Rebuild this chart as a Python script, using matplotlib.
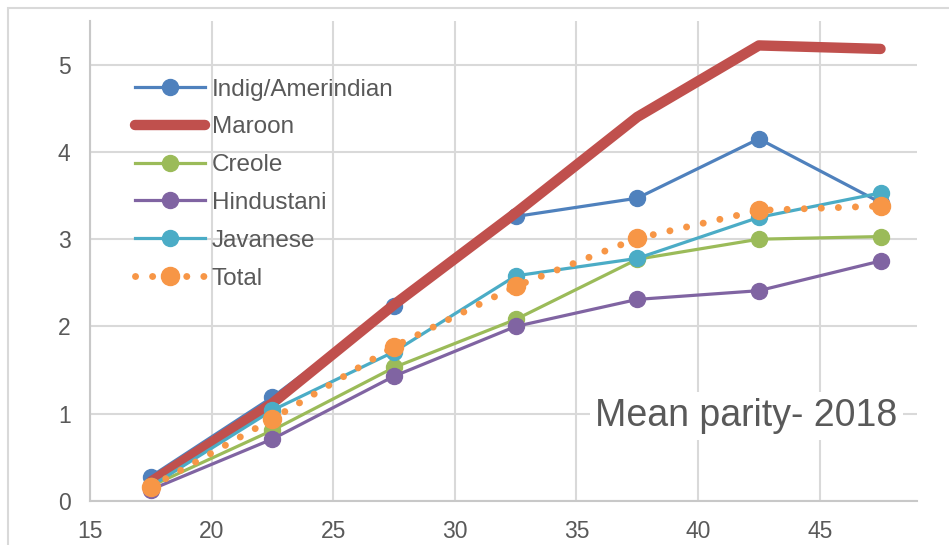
import matplotlib.pyplot as plt
from matplotlib.patches import Rectangle

plt.rcParams['font.family'] = ['Liberation Sans', 'DejaVu Sans']

age_mid = [17.5, 22.5, 27.5, 32.5, 37.5, 42.5, 47.5]
indig = [0.28, 1.19, 2.23, 3.26, 3.47, 4.15, 3.42]
maroon = [0.22, 1.12, 2.25, 3.30, 4.40, 5.22, 5.18]
creole = [0.17, 0.81, 1.53, 2.08, 2.77, 3.00, 3.03]
hindustani = [0.13, 0.71, 1.43, 2.00, 2.31, 2.41, 2.75]
javanese = [0.17, 1.04, 1.71, 2.58, 2.78, 3.25, 3.53]
total = [0.16, 0.94, 1.77, 2.46, 3.01, 3.33, 3.38]

xticks = [15, 20, 25, 30, 35, 40, 45]
yticks = [0, 1, 2, 3, 4, 5]

grey_txt = '#595959'
grid_c = '#D9D9D9'

fig = plt.figure(figsize=(9.49, 5.45), dpi=100)
ax = fig.add_axes([90/949, 1-501/545, (917-90)/949, (501-21)/545])

# outer chart border (cropped at right/bottom in the reference)
top = 1 - 7.5/545
fig.patches.append(Rectangle((7.5/949, -0.2), 1.2, top + 0.2, transform=fig.transFigure,
                             fill=False, edgecolor=grid_c, lw=1.5))

lw = 2.3
ms = 11.5
ax.plot(age_mid, indig, color='#4F81BD', lw=lw, marker='o', ms=ms, label='Indig/Amerindian')
ax.plot(age_mid, maroon, color='#C0504D', lw=7.5, solid_capstyle='round',
        solid_joinstyle='round', label='Maroon')
ax.plot(age_mid, creole, color='#9BBB59', lw=lw, marker='o', ms=ms, label='Creole')
ax.plot(age_mid, hindustani, color='#8064A2', lw=lw, marker='o', ms=ms, label='Hindustani')
ax.plot(age_mid, javanese, color='#4BACC6', lw=lw, marker='o', ms=ms, label='Javanese')
ax.plot(age_mid, total, color='#F79646', lw=5, linestyle=(0, (0.01, 2.45)),
        dash_capstyle='round', marker='o', ms=13, label='Total')

ax.set_xlim(15, 49)
ax.set_ylim(0, 5.5)
ax.set_xticks(xticks)
ax.set_yticks(yticks)
ax.grid(True, color=grid_c, lw=1.5)
ax.set_axisbelow(True)
for s in ['top', 'right']:
    ax.spines[s].set_visible(False)
for s in ['left', 'bottom']:
    ax.spines[s].set_color('#C8C8C8')
    ax.spines[s].set_linewidth(1.5)
ax.tick_params(length=0, labelsize=16.5, colors=grey_txt, pad=14)

leg = ax.legend(loc='upper left', bbox_to_anchor=(45/827, 1 - 57.5/480), frameon=False,
                fontsize=17.5, handlelength=2.9, handletextpad=0.25, labelspacing=0.65,
                borderpad=0, borderaxespad=0)
for t in leg.get_texts():
    t.set_color(grey_txt)

ax.text(746.5/949, 1 - 416/545, 'Mean parity- 2018', transform=fig.transFigure,
        ha='center', va='center', fontsize=27, color=grey_txt,
        bbox=dict(facecolor='white', edgecolor='none', pad=4))

fig.savefig('out.png', dpi=100)
